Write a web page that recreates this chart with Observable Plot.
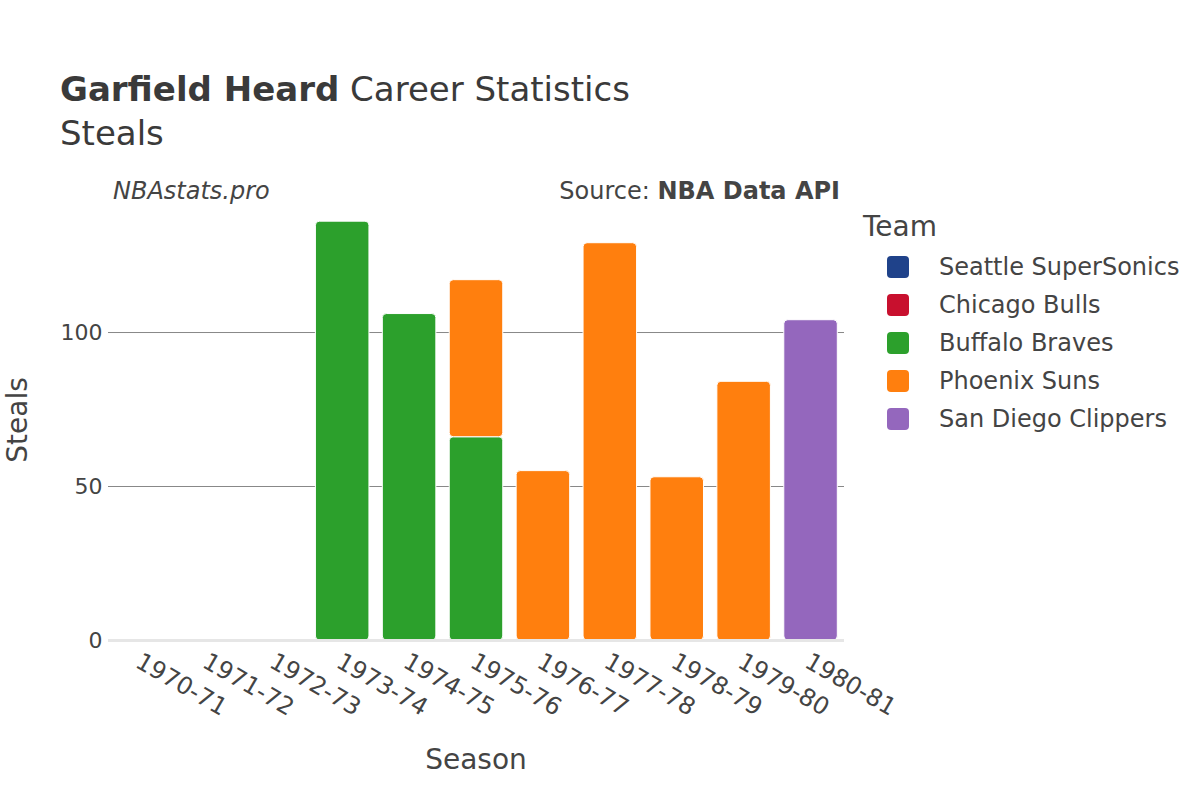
<!DOCTYPE html>
<html>
<head>
<meta charset="utf-8">
<script src="https://cdn.jsdelivr.net/npm/d3@7"></script>
<script src="https://cdn.jsdelivr.net/npm/@observablehq/plot@0.6"></script>
<style>
  html, body { margin: 0; padding: 0; background: #fff; }
  #wrap { position: relative; width: 1200px; height: 800px; font-family: "DejaVu Sans", sans-serif; color: #444; }
  .abs { position: absolute; white-space: nowrap; }
</style>
</head>
<body>
<div id="wrap">
  <div class="abs" style="left:60px; top:69px; font-size:34px; color:#3a3a3a; line-height:40px;"><b>Garfield Heard</b> Career Statistics</div>
  <div class="abs" style="left:60px; top:113px; font-size:34px; color:#3a3a3a; line-height:40px;">Steals</div>
  <div class="abs" style="left:113px; top:177px; font-size:24px; font-style:italic; color:#444;">NBAstats.pro</div>
  <div class="abs" style="right:360px; top:177px; font-size:24px; color:#444;">Source: <b>NBA Data API</b></div>
  <div class="abs" style="left:476px; top:743px; font-size:28px; color:#444; transform:translateX(-50%);">Season</div>
  <div class="abs" style="left:17px; top:420px; font-size:28px; color:#444; transform:translate(-50%,-50%) rotate(-90deg);">Steals</div>
  <div id="legend" class="abs" style="left:863px; top:210px;"></div>
</div>
<script>
const seasons = ["1970-71","1971-72","1972-73","1973-74","1974-75","1975-76","1976-77","1977-78","1978-79","1979-80","1980-81"];
const teams = ["Seattle SuperSonics","Chicago Bulls","Buffalo Braves","Phoenix Suns","San Diego Clippers"];
const teamColors = ["#1f428a","#c8102e","#2ca02c","#ff7f0e","#9467bd"];
const rowSeason = ["1970-71","1971-72","1972-73","1973-74","1974-75","1975-76","1975-76","1976-77","1977-78","1978-79","1979-80","1980-81"];
const rowTeam = ["Seattle SuperSonics","Seattle SuperSonics","Chicago Bulls","Buffalo Braves","Buffalo Braves","Buffalo Braves","Phoenix Suns","Phoenix Suns","Phoenix Suns","Phoenix Suns","Phoenix Suns","San Diego Clippers"];
const rowSteals = [0,0,0,136,106,66,51,55,129,53,84,104];
const yTicks = [0,50,100];

const data = rowSeason.map((s,i) => ({season: s, team: rowTeam[i], steals: rowSteals[i]}));

const chart = Plot.plot({
  width: 1200,
  height: 800,
  marginLeft: 108,
  marginRight: 356,
  marginTop: 215,
  marginBottom: 160,
  style: {fontFamily: "DejaVu Sans, sans-serif", fontSize: "22px", color: "#444", background: "transparent"},
  x: {domain: seasons, paddingInner: 0.2, paddingOuter: 0.1, round: false, label: null},
  y: {domain: [0, 138], label: null},
  color: {domain: teams, range: teamColors},
  marks: [
    Plot.gridY(yTicks.filter(d => d > 0), {stroke: "#888", strokeOpacity: 1, strokeWidth: 1}),
    Plot.barY(data, {x: "season", y: "steals", fill: "team", stroke: "white", strokeWidth: 1, rx: 4, order: teams}),
    Plot.ruleY([0], {stroke: "#e6e6e6", strokeWidth: 3}),
    Plot.axisY(yTicks, {tickSize: 0, tickPadding: 6, fontSize: 22, label: null}),
    Plot.axisX({tickSize: 0, tickRotate: 30, tickPadding: 19, dx: -4, fontSize: 24, label: null})
  ]
});
document.getElementById("wrap").prepend(chart);
chart.style.position = "absolute";
chart.style.left = "0px";
chart.style.top = "0px";

const legend = document.getElementById("legend");
let html = '<div style="font-size:28px; color:#444; margin-bottom:4px; line-height:34px;">Team</div>';
teams.forEach((t,i) => {
  html += `<div style="display:flex; align-items:center; height:38px; font-size:24px; color:#444;">
    <span style="display:inline-block; width:22px; height:22px; border-radius:4px; background:${teamColors[i]}; margin-left:24px; margin-right:30px;"></span>${t}</div>`;
});
legend.innerHTML = html;
</script>
</body>
</html>
